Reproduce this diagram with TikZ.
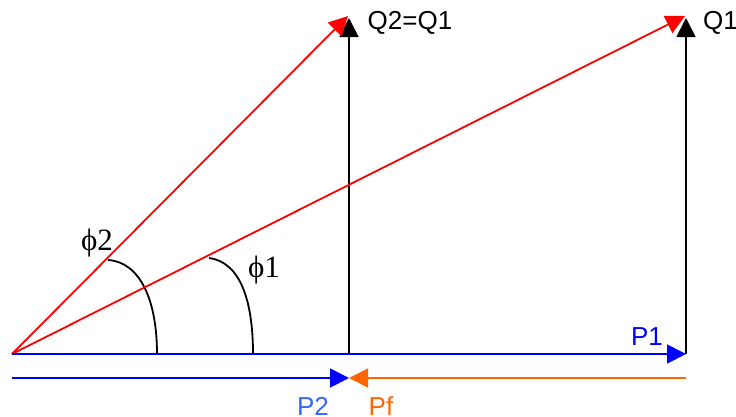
\documentclass[tikz,border=0pt]{standalone}
\usepackage{fontspec}
\setmainfont{Liberation Serif}
\setsansfont{Liberation Sans}
\usetikzlibrary{arrows.meta}
\definecolor{pblue}{RGB}{0,0,255}
\definecolor{lblue}{RGB}{51,102,255}
\definecolor{porange}{RGB}{255,102,0}
\begin{document}
\begin{tikzpicture}[x=1pt,y=-1pt,
  vec/.style={line width=1.8pt,-{Triangle[length=19pt,width=19pt]}},
  arcline/.style={line width=1.8pt,black},
  lab/.style={font=\sffamily\fontsize{26}{28}\selectfont,inner sep=0pt},
  philab/.style={font=\fontsize{31}{33}\selectfont,inner sep=0pt}]
\useasboundingbox (0,0) rectangle (736,416);
\coordinate (O) at (12,354);
\coordinate (B2) at (349,354);
\coordinate (B1) at (686,354);
\coordinate (T2) at (349,18);
\coordinate (T1) at (686,18);
\coordinate (L0) at (12,378);
\coordinate (M) at (349,378);
\coordinate (R0) at (686,378);
\coordinate (A2s) at (108,260);
\coordinate (A2e) at (157,354);
\coordinate (A1s) at (209,258);
\coordinate (A1e) at (253,354);
% arcs
\draw[arcline] (A2s) .. controls (140,262) and (157,300) .. (A2e);
\draw[arcline] (A1s) .. controls (240,262) and (253,300) .. (A1e);
% vertical Q vectors
\draw[vec,black] (B2) -- (T2);
\draw[vec,black] (B1) -- (T1);
% red S vectors
\draw[vec,red] (O) -- ([xshift=-1pt,yshift=2pt]T2);
\draw[vec,red] (O) -- ([xshift=-1pt,yshift=2pt]T1);
% P vectors
\draw[vec,pblue] (O) -- (B1);
\draw[vec,pblue] (L0) -- (M);
\draw[vec,porange] (R0) -- (M);
% labels
\node[lab] (q21) at (410,23) {Q2=Q1};
\node[lab,anchor=west] (q1) at (703,23) {Q1};
\node[lab,text=pblue] (p1) at (647,337) {P1};
\node[lab,text=lblue] (p2) at (313,406) {P2};
\node[lab,text=porange] (pf) at (381,406) {Pf};
\node[philab] (f2) at (97,243) {ϕ2};
\node[philab] (f1) at (264,270) {ϕ1};
\end{tikzpicture}
\end{document}
